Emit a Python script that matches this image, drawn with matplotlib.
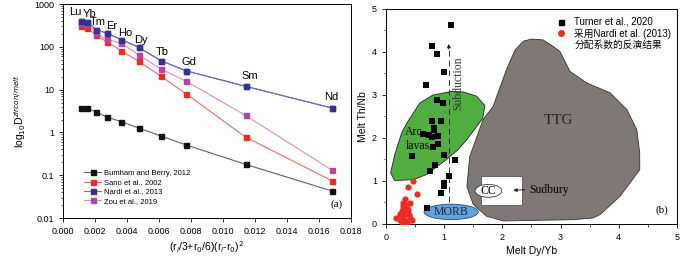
import matplotlib
matplotlib.use("Agg")
import matplotlib.pyplot as plt
from matplotlib.patches import Polygon, Ellipse, Rectangle
from matplotlib.lines import Line2D
import matplotlib.ticker as mticker

plt.rcParams['font.family'] = ['Liberation Sans', 'Noto Sans CJK SC']

# ---- panel (a) data ----
elements = ['Lu', 'Yb', 'Tm', 'Er', 'Ho', 'Dy', 'Tb', 'Gd', 'Sm', 'Nd']
radius_term = [0.00112, 0.00153, 0.00207, 0.00273, 0.00365, 0.00474,
               0.00610, 0.00770, 0.01141, 0.01679]
burnham = [3.7, 3.7, 3.0, 2.3, 1.78, 1.27, 0.83, 0.51, 0.18, 0.043]
sano = [315, 275, 187, 133, 81, 46, 21, 8.0, 0.78, 0.075]
nardi = [405, 385, 250, 210, 148, 97, 48, 27.5, 12, 3.75]
zou = [360, 345, 215, 150, 121, 65, 30.5, 15.8, 2.5, 0.133]
series_names = ['Bumham and Berry, 2012', 'Sano et al., 2002',
                'Nardi et al., 2013', 'Zou et al., 2019']

# ---- panel (b) data ----
turner_dyyb = [1.12, 0.79, 0.88, 1.00, 0.69, 0.88, 0.985, 0.785, 0.94, 0.82,
               0.82, 0.64, 0.74, 0.785, 0.89, 0.89, 0.80, 0.44, 1.00, 1.19,
               0.84, 0.75, 1.08, 0.99, 0.99, 0.95, 0.71]
turner_thnb = [4.62, 4.15, 3.95, 3.53, 3.22, 2.88, 2.82, 2.39, 2.39, 2.22,
               2.19, 2.09, 2.06, 2.02, 2.04, 1.86, 1.80, 1.57, 1.61, 1.48,
               1.38, 1.22, 1.11, 0.95, 0.89, 0.72, 0.36]
inv_dyyb = [0.47, 0.38, 0.54, 0.33, 0.41, 0.30, 0.36, 0.27, 0.33, 0.38,
            0.30, 0.41, 0.17, 0.24, 0.33, 0.44, 0.27, 0.36, 0.30, 0.24,
            0.38, 0.29, 0.35, 0.40, 0.31]
inv_thnb = [1.01, 0.86, 0.70, 0.58, 0.49, 0.41, 0.37, 0.29, 0.26, 0.26,
            0.18, 0.14, 0.14, 0.10, 0.06, 0.10, 0.02, 0.02, 0.49, 0.22,
            0.33, 0.34, 0.45, 0.20, 0.10]

arc_lavas = [(1.12, 3.08), (1.33, 3.07), (1.56, 2.97), (1.70, 2.75), (1.66, 2.45),
             (1.39, 1.96), (1.24, 1.73), (1.04, 1.50), (0.70, 1.15), (0.47, 1.03),
             (0.15, 1.01), (0.08, 1.19), (0.15, 1.61), (0.27, 2.12), (0.36, 2.35),
             (0.58, 2.81), (0.81, 3.00)]
ttg = [(2.50, 4.30), (2.70, 4.28), (2.87, 4.13), (2.99, 4.01), (3.16, 3.55),
       (3.45, 3.28), (3.85, 3.05), (4.14, 2.66), (4.31, 2.19), (4.36, 1.65),
       (4.36, 1.26), (4.02, 0.64), (3.68, 0.22), (3.56, 0.14), (3.22, 0.10),
       (2.02, 0.07), (1.73, 0.18), (1.50, 0.45), (1.39, 0.87), (1.44, 1.57),
       (1.67, 2.43), (1.84, 2.73), (2.07, 3.59), (2.22, 4.05), (2.36, 4.25)]

fig = plt.figure(figsize=(7.0, 2.58), dpi=100)
ax1 = fig.add_axes([0.09, 0.155, 0.4114, 0.829])
ax2 = fig.add_axes([0.5514, 0.132, 0.4157, 0.8333])

# ---------------- panel (a) ----------------
styles = [('#111111', '#606060'), ('#ee2a24', '#f26a66'),
          ('#33338f', '#6a6ac8'), ('#b2479f', '#d98ad0')]
for vals, name, (mc, lc) in zip([burnham, sano, nardi, zou], series_names, styles):
    ax1.plot(radius_term, vals, color=lc, lw=0.8, marker='s', ms=3.6,
             mfc=mc, mec=mc, label=name)
# draw Nardi on top
ax1.plot(radius_term, nardi, color='#6a6ac8', lw=0.8, marker='s', ms=3.6,
         mfc='#33338f', mec='#33338f')

label_offsets = [(-6, 8.5), (2, 7.5), (2, 7.5), (5, 7.5), (3.5, 7), (2.5, 7.5),
                 (2, 8.5), (3, 9), (4, 10), (0, 11)]
for el, x, y, off in zip(elements, radius_term, nardi, label_offsets):
    ax1.annotate(el, (x, y), xytext=off, textcoords='offset pixels',
                 ha='center', va='center', fontsize=8)

ax1.set_yscale('log')
ax1.set_ylim(0.01, 1000)
ax1.set_xlim(0, 0.018)
ax1.xaxis.set_major_locator(mticker.MultipleLocator(0.002))
ax1.xaxis.set_major_formatter(mticker.FormatStrFormatter('%.3f'))
ax1.yaxis.set_major_formatter(mticker.FuncFormatter(lambda v, p: f'{v:g}'))
ax1.yaxis.set_minor_formatter(mticker.NullFormatter())
ax1.tick_params(labelsize=6.5, length=3, width=0.6, direction='out')
ax1.tick_params(which='minor', length=1.5, width=0.5)
ax1.tick_params(axis='x', which='minor', length=0)
for s in ax1.spines.values():
    s.set_linewidth(0.7)
ax1.set_xlabel('(r$_i$/3+r$_0$/6)(r$_i$-r$_0$)$^2$', fontsize=7.5, labelpad=2)
ax1.set_ylabel('log$_{10}$D$^{zircon/melt}$', fontsize=7.5, labelpad=4)
ax1.legend(loc='lower left', bbox_to_anchor=(0.05, 0.03), frameon=False,
           fontsize=5.5, handlelength=2.2, labelspacing=0.25, handletextpad=0.4)
ax1.text(0.97, 0.04, '(a)', transform=ax1.transAxes, ha='right', va='bottom',
         fontsize=8, family='Liberation Serif')

# ---------------- panel (b) ----------------
ax2.add_patch(Polygon(ttg, closed=True, fc='#7f7874', ec='#333333', lw=0.6, zorder=1))
ax2.add_patch(Polygon(arc_lavas, closed=True, fc='#4fae3f', ec='#222222', lw=0.6, zorder=1))
ax2.add_patch(Rectangle((1.64, 0.45), 0.69, 0.66, fc='white', ec='#555555', lw=0.6, zorder=2))
ax2.add_patch(Ellipse((1.76, 0.77), 0.46, 0.30, fc='white', ec='#333333', lw=0.6, zorder=3))
ax2.add_patch(Ellipse((1.12, 0.28), 0.93, 0.36, fc='#63a3dc', ec='#2a4a70', lw=0.6, zorder=2))

ax2.plot([1.08, 1.08], [0.5, 4.05], ls=(0, (6, 4)), color='#333333', lw=0.7, zorder=2)
ax2.annotate('', xy=(1.08, 4.25), xytext=(1.08, 4.0),
             arrowprops=dict(arrowstyle='-|>', color='#222222', lw=0.7,
                             mutation_scale=5), zorder=2)
ax2.annotate('', xy=(2.14, 0.78), xytext=(2.43, 0.80),
             arrowprops=dict(arrowstyle='-|>', color='#222222', lw=0.7,
                             mutation_scale=5), zorder=4)

serif = 'Liberation Serif'
ax2.text(1.25, 3.28, 'Subduction', rotation=90, ha='center', va='center',
         fontsize=8.5, family=serif, color='#333333', zorder=3)
ax2.text(0.47, 2.13, 'Arc', ha='center', va='center', fontsize=8.5, family=serif, zorder=3)
ax2.text(0.55, 1.82, 'lavas', ha='center', va='center', fontsize=8.5, family=serif, zorder=3)
ax2.text(2.96, 2.40, 'TTG', ha='center', va='center', fontsize=11, family=serif,
         color='#222222', zorder=3)
ax2.text(1.76, 0.77, 'CC', ha='center', va='center', fontsize=8.5, family=serif, zorder=4)
ax2.text(2.46, 0.80, 'Sudbury', ha='left', va='center', fontsize=8.5, family=serif, zorder=4)
ax2.text(1.12, 0.27, 'MORB', ha='center', va='center', fontsize=8.5, family=serif,
         color='#1a2a40', zorder=3)
ax2.text(0.97, 0.04, '(b)', transform=ax2.transAxes, ha='right', va='bottom',
         fontsize=8, family=serif)

ax2.scatter(turner_dyyb, turner_thnb, marker='s', s=14, c='black', zorder=5, lw=0)
ax2.scatter(inv_dyyb, inv_thnb, marker='o', s=20, c='#ee2a24', zorder=5, lw=0)

ax2.set_xlim(0, 5)
ax2.set_ylim(0, 5)
ax2.xaxis.set_major_locator(mticker.MultipleLocator(1))
ax2.xaxis.set_minor_locator(mticker.MultipleLocator(0.5))
ax2.yaxis.set_major_locator(mticker.MultipleLocator(1))
ax2.yaxis.set_minor_locator(mticker.MultipleLocator(0.5))
ax2.tick_params(labelsize=6.5, length=3, width=0.6, direction='out')
ax2.tick_params(which='minor', length=1.8, width=0.5)
for s in ax2.spines.values():
    s.set_linewidth(0.7)
ax2.set_xlabel('Melt Dy/Yb', fontsize=7.5, labelpad=3)
ax2.set_ylabel('Melt Th/Nb', fontsize=7.5, labelpad=3)

handles = [Line2D([], [], ls='none', marker='s', ms=3.6, color='black'),
           Line2D([], [], ls='none', marker='o', ms=4, color='#ee2a24'),
           Line2D([], [], ls='none')]
labels = ['Turner et al., 2020', '采用Nardi et al. (2013)', '分配系数的反演结果']
ax2.legend(handles, labels, loc='upper right', bbox_to_anchor=(1.0, 0.99),
           frameon=False, fontsize=7, handlelength=1.2, handletextpad=0.8,
           labelspacing=0.15, borderaxespad=0.2)

fig.savefig('out.png', dpi=100)
